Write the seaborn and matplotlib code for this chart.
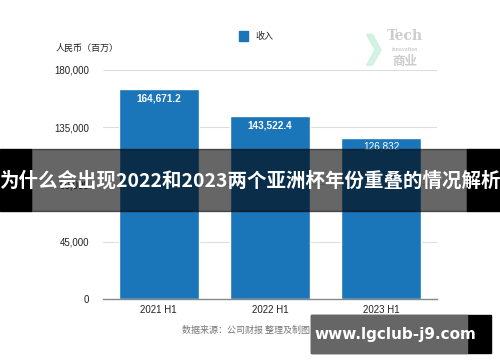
import numpy as np
import pandas as pd
import seaborn as sns
import matplotlib.pyplot as plt
from matplotlib.patches import Rectangle, Polygon

periods = ['2021 H1', '2022 H1', '2023 H1']
revenue = [164671.2, 143522.4, 126832]
value_labels = ['164,671.2', '143,522.4', '126,832']
yticks = [0, 45000, 90000, 135000, 180000]

sns.set_theme(style='white')
plt.rcParams['font.family'] = ['Noto Sans CJK SC', 'DejaVu Sans']

df = pd.DataFrame({'period': periods, 'revenue': revenue})
blue = '#1a75b9'

fig = plt.figure(figsize=(5, 3.62), dpi=100)
ax = fig.add_axes([0.206, 0.174, 0.668, 0.633])
sns.barplot(data=df, x='period', y='revenue', color=blue, width=0.72, ax=ax, saturation=1)

ax.set_ylim(0, 180000)
ax.set_yticks(yticks)
ax.set_yticklabels([f'{v:,}' for v in yticks], fontsize=7, color='#222222', family='Liberation Sans')
ax.set_xticklabels(periods, fontsize=7, color='#222222', family='Liberation Sans')
ax.set_xlabel('')
ax.set_ylabel('')
ax.tick_params(axis='both', length=0, pad=10)
ax.tick_params(axis='x', pad=4)
for v in yticks[1:]:
    ax.axhline(v, color='#dddddd', lw=0.8, zorder=0)
for s in ['top', 'right', 'left']:
    ax.spines[s].set_visible(False)
ax.spines['bottom'].set_color('#888888')
ax.spines['bottom'].set_linewidth(1)

for i, (v, lab) in enumerate(zip(revenue, value_labels)):
    ax.text(i, v - 3300, lab, ha='center', va='top', color='white', fontsize=7.2,
            family='Liberation Sans', fontweight='bold' if i < 2 else 'normal')

# legend and axis title
fig.patches.append(Rectangle((0.478, 0.888), 0.018, 0.025, transform=fig.transFigure, color=blue))
fig.text(0.51, 0.9, '收入', fontsize=6.5, va='center', color='#222222')
fig.text(0.112, 0.865, '人民币（百万）', fontsize=6.5, va='center', color='#222222')

# top-right logo watermark
fig.patches.append(Polygon([(0.733, 0.905), (0.745, 0.905), (0.762, 0.862), (0.745, 0.82), (0.733, 0.82), (0.75, 0.862)],
                           closed=True, transform=fig.transFigure, color='#c8f0dc', alpha=0.8))
fig.text(0.81, 0.9, 'Tech', fontsize=10, fontweight='bold', color='#cccccc', ha='center', va='center', family='DejaVu Serif')
fig.text(0.81, 0.862, 'innovation', fontsize=3.5, fontweight='bold', color='#cccccc', ha='center', va='center')
fig.text(0.81, 0.83, '商业', fontsize=9, fontweight='bold', color='#cccccc', ha='center', va='center')

# source note
fig.text(0.54, 0.088, '数据来源：公司财报 整理及制图：Tech商业', fontsize=6.5, color='#777777', ha='center', va='center')

# title banner overlay
by, bh = 0.417, 0.171
fig.patches.append(Rectangle((0, by), 0.062, bh, transform=fig.transFigure, color='black', zorder=10))
fig.patches.append(Rectangle((0.934, by), 0.066, bh, transform=fig.transFigure, color='black', zorder=10))
fig.patches.append(Rectangle((0.062, by), 0.872, bh, transform=fig.transFigure, color='black', alpha=0.6, zorder=11))
fig.text(0.5, 0.5, '为什么会出现2022和2023两个亚洲杯年份重叠的情况解析', fontsize=14, fontweight='bold',
         color='white', ha='center', va='center', zorder=12)

# bottom-right url overlay
fig.patches.append(Rectangle((0.622, 0.025), 0.36, 0.105, transform=fig.transFigure, color='black', zorder=10))
fig.patches.append(Rectangle((0.622, 0.025), 0.312, 0.105, transform=fig.transFigure, color='#666666', zorder=11))
fig.text(0.79, 0.077, 'www.lgclub-j9.com', fontsize=11, fontweight='bold', color='white',
         ha='center', va='center', zorder=12, family='DejaVu Sans')

fig.savefig('out.png', dpi=100)
